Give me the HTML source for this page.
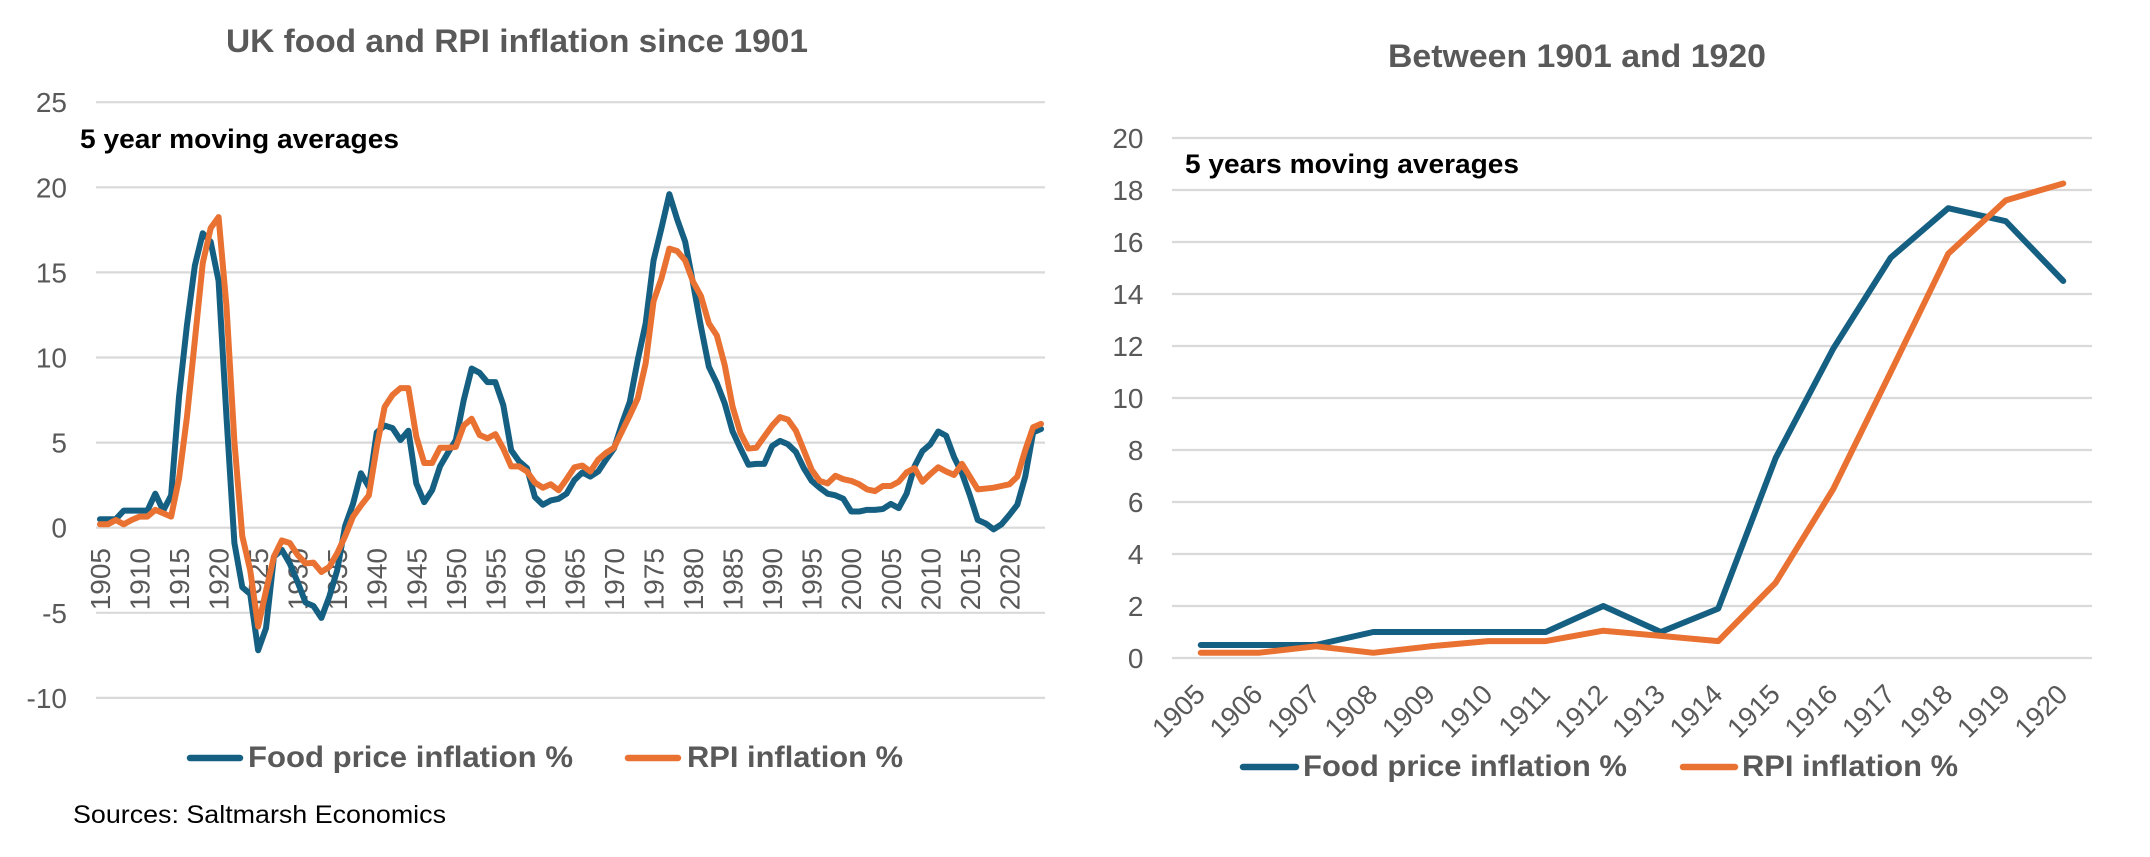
<!DOCTYPE html>
<html lang="en">
<head>
<meta charset="utf-8">
<title>UK food and RPI inflation</title>
<style>
html,body{margin:0;padding:0;background:#fff;}
svg{display:block;font-family:"Liberation Sans",sans-serif;}
</style>
</head>
<body>
<svg id="canvas" xmlns="http://www.w3.org/2000/svg" width="2150" height="857" viewBox="0 0 2150 857">
  <rect width="2150" height="857" fill="#ffffff"/>
  <g id="left-chart">
    <text x="226" y="52" font-size="32" font-weight="700" fill="#595959" textLength="582" lengthAdjust="spacingAndGlyphs">UK food and RPI inflation since 1901</text>
    <g id="left-grid"></g>
    <g id="left-yticks"></g>
    <g id="left-xticks"></g>
    <g id="left-lines"></g>
    <text x="80" y="148" font-size="26.5" font-weight="700" fill="#000000" textLength="319" lengthAdjust="spacingAndGlyphs">5 year moving averages</text>
    <g>
      <line x1="190" y1="758" x2="240" y2="758" stroke="#156082" stroke-width="6.5" stroke-linecap="round"/>
      <text x="248" y="767" font-size="30" font-weight="700" fill="#595959" textLength="325" lengthAdjust="spacingAndGlyphs">Food price inflation %</text>
      <line x1="628" y1="758" x2="678" y2="758" stroke="#E97132" stroke-width="6.5" stroke-linecap="round"/>
      <text x="687" y="767" font-size="30" font-weight="700" fill="#595959" textLength="216" lengthAdjust="spacingAndGlyphs">RPI inflation %</text>
    </g>
    <text x="73" y="823" font-size="25" fill="#000000" textLength="373" lengthAdjust="spacingAndGlyphs">Sources: Saltmarsh Economics</text>
  </g>
  <g id="right-chart">
    <text x="1388" y="67" font-size="32" font-weight="700" fill="#595959" textLength="378" lengthAdjust="spacingAndGlyphs">Between 1901 and 1920</text>
    <g id="right-grid"></g>
    <g id="right-yticks"></g>
    <g id="right-xticks"></g>
    <g id="right-lines"></g>
    <text x="1185" y="173" font-size="26.5" font-weight="700" fill="#000000" textLength="334" lengthAdjust="spacingAndGlyphs">5 years moving averages</text>
    <g>
      <line x1="1243" y1="767" x2="1296" y2="767" stroke="#156082" stroke-width="6.5" stroke-linecap="round"/>
      <text x="1303" y="776" font-size="30" font-weight="700" fill="#595959" textLength="324" lengthAdjust="spacingAndGlyphs">Food price inflation %</text>
      <line x1="1683" y1="767" x2="1735" y2="767" stroke="#E97132" stroke-width="6.5" stroke-linecap="round"/>
      <text x="1742" y="776" font-size="30" font-weight="700" fill="#595959" textLength="216" lengthAdjust="spacingAndGlyphs">RPI inflation %</text>
    </g>
  </g>
</svg>
<script>
/* ---------- data: left chart ---------- */
const longYears = [1905,1906,1907,1908,1909,1910,1911,1912,1913,1914,1915,1916,1917,1918,1919,1920,1921,1922,1923,1924,1925,1926,1927,1928,1929,1930,1931,1932,1933,1934,1935,1936,1937,1938,1939,1940,1941,1942,1943,1944,1945,1946,1947,1948,1949,1950,1951,1952,1953,1954,1955,1956,1957,1958,1959,1960,1961,1962,1963,1964,1965,1966,1967,1968,1969,1970,1971,1972,1973,1974,1975,1976,1977,1978,1979,1980,1981,1982,1983,1984,1985,1986,1987,1988,1989,1990,1991,1992,1993,1994,1995,1996,1997,1998,1999,2000,2001,2002,2003,2004,2005,2006,2007,2008,2009,2010,2011,2012,2013,2014,2015,2016,2017,2018,2019,2020,2021,2022,2023,2024];
const longFood = [0.5,0.5,0.5,1,1,1,1,2,1,1.9,7.7,11.9,15.4,17.3,16.8,14.5,
  6.5,-0.9,-3.5,-3.9,-7.2,-5.9,-1.7,-1.3,-2.1,-3.2,-4.4,-4.6,-5.3,-4.05,-2.5,0.1,1.4,3.2,2.4,5.6,6,5.85,5.15,5.7,2.6,1.5,2.2,3.6,4.4,
  5.15,7.5,9.35,9.1,8.55,8.55,7.2,4.55,3.9,3.5,1.8,1.35,1.6,1.7,2,2.8,3.25,3,3.3,4,4.65,6.1,7.4,9.85,12,15.7,17.6,19.6,18.1,16.8,14.35,11.8,9.45,8.5,
  7.3,5.65,4.65,3.7,3.75,3.75,4.8,5.1,4.9,4.45,3.5,2.75,2.35,2,1.9,1.7,0.95,0.95,1.05,1.05,1.1,1.4,1.15,2,3.6,4.5,4.9,5.65,5.4,4.15,3.2,1.9,0.45,0.25,-0.1,0.2,0.75,1.35,3,5.6,5.8];
const longRpi = [0.2,0.2,0.45,0.2,0.45,0.65,0.65,1.05,0.85,0.65,2.9,6.5,11,15.55,17.6,18.25,
  13,5.05,-0.5,-2.5,-5.8,-3.7,-1.7,-0.75,-0.9,-1.6,-2.1,-2.05,-2.6,-2.3,-1.5,-0.5,0.65,1.3,1.9,4.75,7.1,7.8,8.2,8.2,5.35,3.8,3.8,4.7,4.7,
  4.75,6,6.4,5.45,5.25,5.5,4.65,3.6,3.6,3.3,2.65,2.35,2.55,2.2,2.85,3.55,3.65,3.3,4,4.4,4.7,5.65,6.6,7.6,9.65,13.3,14.65,16.4,16.25,15.7,14.45,13.6,12,11.3,
  9.55,7.1,5.55,4.65,4.7,5.35,6,6.5,6.35,5.7,4.55,3.4,2.75,2.6,3.05,2.85,2.75,2.55,2.25,2.15,2.45,2.45,2.7,3.25,3.5,2.7,3.15,3.55,3.3,3.1,3.75,3,2.25,2.3,2.35,2.45,2.55,3,4.55,5.9,6.1];
const longYTicks = [25,20,15,10,5,0,-5,-10];
const longXTicks = [1905,1910,1915,1920,1925,1930,1935,1940,1945,1950,1955,1960,1965,1970,1975,1980,1985,1990,1995,2000,2005,2010,2015,2020];

/* ---------- data: right chart ---------- */
const shortYears = [1905,1906,1907,1908,1909,1910,1911,1912,1913,1914,1915,1916,1917,1918,1919,1920];
const shortFood = [0.5,0.5,0.5,1,1,1,1,2,1,1.9,7.7,11.9,15.4,17.3,16.8,14.5];
const shortRpi = [0.2,0.2,0.45,0.2,0.45,0.65,0.65,1.05,0.85,0.65,2.9,6.5,11,15.55,17.6,18.25];
const shortYTicks = [20,18,16,14,12,10,8,6,4,2,0];

const SVGNS = 'http://www.w3.org/2000/svg';
const FOOD_COLOR = '#156082';
const RPI_COLOR = '#E97132';

function makeAxes(left, right, count, zeroY, pxPerUnit) {
  const step = (right - left) / count;
  return {
    x: function (i) { return left + step * (i + 0.5); },
    y: function (v) { return zeroY - pxPerUnit * v; }
  };
}
function makeEl(tag, parent) {
  const el = document.createElementNS(SVGNS, tag);
  parent.appendChild(el);
  return el;
}
function drawGrid(parentId, ticks, axes, left, right, prefix) {
  const parent = document.getElementById(parentId);
  ticks.forEach(function (t) {
    const el = makeEl('line', parent);
    
    
    el.setAttribute('x1', left);
    el.setAttribute('x2', right);
    el.setAttribute('y1', axes.y(t));
    el.setAttribute('y2', axes.y(t));
    el.setAttribute('stroke', '#D9D9D9');
    el.setAttribute('stroke-width', '2.2');
  });
}
function drawYLabels(parentId, ticks, axes, xRight, prefix) {
  const parent = document.getElementById(parentId);
  ticks.forEach(function (t) {
    const el = makeEl('text', parent);
    
    
    el.setAttribute('x', xRight);
    el.setAttribute('y', axes.y(t) + 10);
    el.setAttribute('text-anchor', 'end');
    el.setAttribute('font-size', '28');
    el.setAttribute('fill', '#595959');
    el.textContent = String(t);
  });
}
function drawSeries(parentId, values, axes, color, width, name) {
  const parent = document.getElementById(parentId);
  const pts = values.map(function (v, i) {
    return axes.x(i).toFixed(2) + ',' + axes.y(v).toFixed(2);
  }).join(' ');
  const el = makeEl('polyline', parent);
  
  
  el.setAttribute('points', pts);
  el.setAttribute('fill', 'none');
  el.setAttribute('stroke', color);
  el.setAttribute('stroke-width', width);
  el.setAttribute('stroke-linejoin', 'round');
  el.setAttribute('stroke-linecap', 'round');
}

/* left chart */
const leftAxes = makeAxes(96, 1045, longYears.length, 527.7, 17.02);
drawGrid('left-grid', longYTicks, leftAxes, 96, 1045, 'left');
drawYLabels('left-yticks', longYTicks, leftAxes, 67, 'left');
longXTicks.forEach(function (yr) {
  const el = makeEl('text', document.getElementById('left-xticks'));
  const px = leftAxes.x(longYears.indexOf(yr)) + 10;
  
  
  el.setAttribute('transform', 'translate(' + px + ',548) rotate(-90)');
  el.setAttribute('text-anchor', 'end');
  el.setAttribute('font-size', '28');
  el.setAttribute('fill', '#595959');
  el.textContent = String(yr);
});
drawSeries('left-lines', longFood, leftAxes, FOOD_COLOR, 6, 'left-food-price-line');
drawSeries('left-lines', longRpi, leftAxes, RPI_COLOR, 6, 'left-rpi-line');

/* right chart */
const rightAxes = makeAxes(1172, 2092, shortYears.length, 658, 26);
drawGrid('right-grid', shortYTicks, rightAxes, 1172, 2092, 'right');
drawYLabels('right-yticks', shortYTicks, rightAxes, 1143.5, 'right');
shortYears.forEach(function (yr, i) {
  const el = makeEl('text', document.getElementById('right-xticks'));
  const px = rightAxes.x(i) + 6;
  
  
  el.setAttribute('transform', 'translate(' + px + ',696) rotate(-45)');
  el.setAttribute('text-anchor', 'end');
  el.setAttribute('font-size', '27.5');
  el.setAttribute('fill', '#595959');
  el.textContent = String(yr);
});
drawSeries('right-lines', shortFood, rightAxes, FOOD_COLOR, 6, 'right-food-price-line');
drawSeries('right-lines', shortRpi, rightAxes, RPI_COLOR, 6, 'right-rpi-line');
</script>
</body>
</html>
